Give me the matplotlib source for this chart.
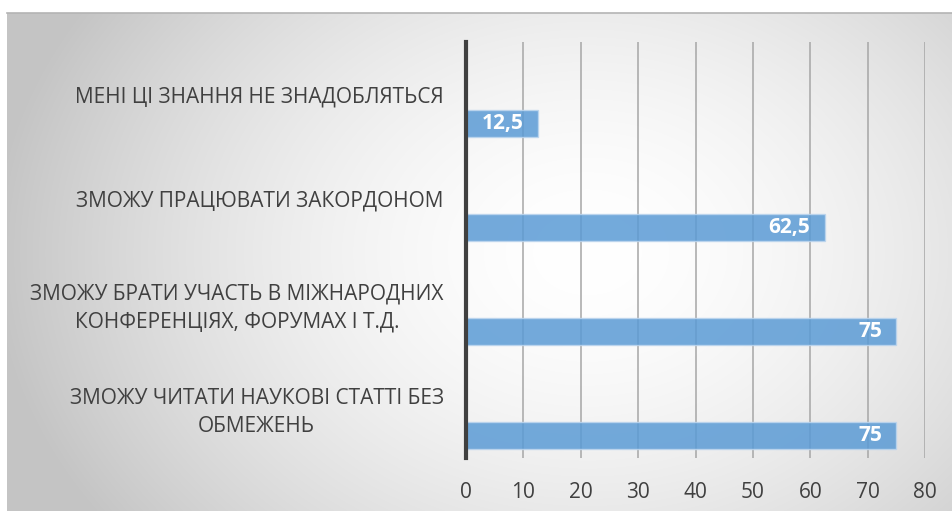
import numpy as np
import matplotlib
matplotlib.use("Agg")
import matplotlib.pyplot as plt

# дані
categories = ["МЕНІ ЦІ ЗНАННЯ НЕ ЗНАДОБЛЯТЬСЯ",
              "ЗМОЖУ ПРАЦЮВАТИ ЗАКОРДОНОМ",
              "ЗМОЖУ БРАТИ УЧАСТЬ В МІЖНАРОДНИХ\nКОНФЕРЕНЦІЯХ, ФОРУМАХ І Т.Д.",
              "ЗМОЖУ ЧИТАТИ НАУКОВІ СТАТТІ БЕЗ\nОБМЕЖЕНЬ"]
values = [12.5, 62.5, 75, 75]
value_labels = ["12,5", "62,5", "75", "75"]
xticks = [0, 10, 20, 30, 40, 50, 60, 70, 80]

plt.rcParams['font.family'] = ['Open Sans', 'DejaVu Sans']

W, H = 953, 511
fig = plt.figure(figsize=(W / 100, H / 100), dpi=100)
fig.patch.set_facecolor('white')

# фон з радіальним градієнтом
bg = fig.add_axes([7 / W, 0, 1 - 7 / W, 1 - 13 / H])
yy, xx = np.mgrid[0:498, 0:946]
cx, cy = 580, 240
r = np.sqrt(((xx - cx) / 580.0) ** 2 + ((yy - cy) / 450.0) ** 2)
g = np.clip(1.0 - 0.22 * r ** 1.7, 0.77, 1.0)
bg.imshow(np.dstack([g, g, g]), aspect='auto', extent=[0, 1, 0, 1])
bg.set_axis_off()
fig.add_artist(plt.Line2D([7 / W, 1], [1 - 13 / H, 1 - 13 / H], color='#b4b4b4', lw=1.2))

ax = fig.add_axes([466 / W, 1 - 458 / H, (925 - 466) / W, (458 - 42) / H])
ax.patch.set_alpha(0)
y = np.arange(len(categories))
bars = ax.barh(y + 0.28, values, height=0.26, color='#5b9bd5', alpha=0.85,
               edgecolor='#bcd5ee', linewidth=1, zorder=3)

for b, lab in zip(bars, value_labels):
    ax.text(b.get_width() - 2.5, b.get_y() + b.get_height() / 2, lab,
            ha='right', va='center', color='white', fontsize=15,
            fontweight='bold', zorder=4)

ax.set_xlim(0, 80)
ax.set_ylim(3.5, -0.5)
ax.set_xticks(xticks)
ax.set_xticklabels([str(t) for t in xticks])
ax.set_yticks(y)
ax.set_yticklabels(categories)
for t in ax.get_yticklabels():
    t.set_multialignment('center')
    t.set_linespacing(1.45)
ax.tick_params(axis='y', length=0, pad=16, labelsize=15, labelcolor='#404040')
ax.tick_params(axis='x', length=0, pad=17, labelsize=15, labelcolor='#404040')
ax.grid(axis='x', color='#a6a6a6', lw=1.1, zorder=1)
for s in ['top', 'right', 'bottom']:
    ax.spines[s].set_visible(False)
ax.spines['left'].set_color('#404040')
ax.spines['left'].set_linewidth(3)
ax.spines['left'].set_zorder(5)

fig.savefig('out.png', dpi=100)
